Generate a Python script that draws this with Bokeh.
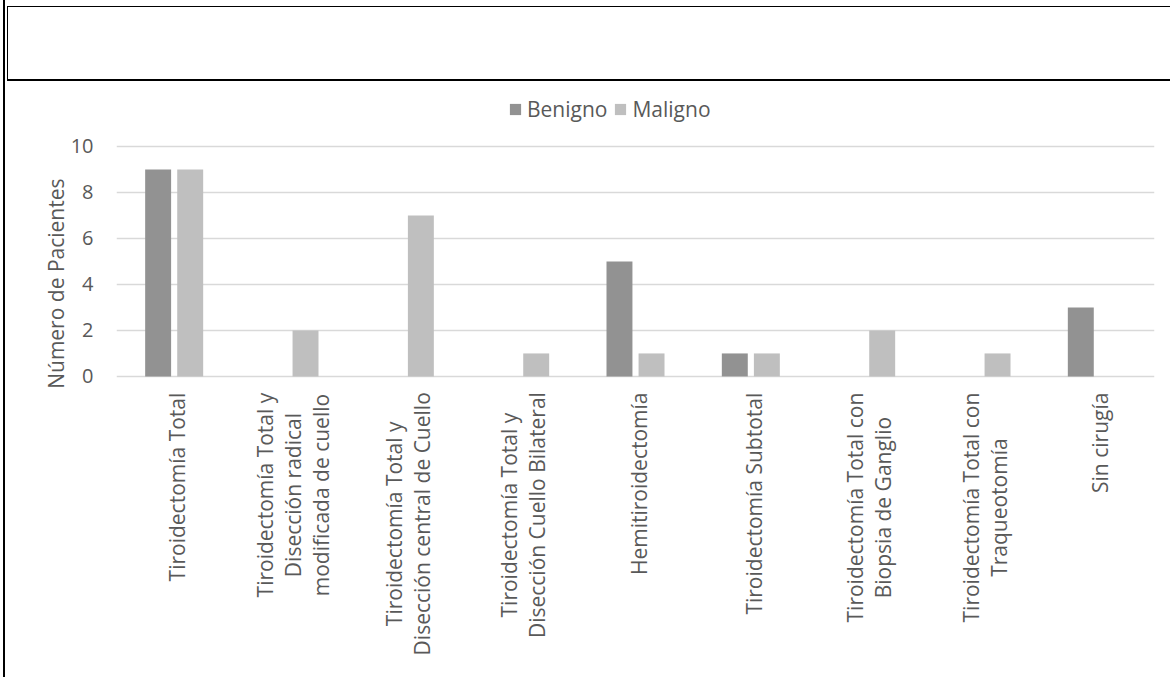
import math
from bokeh.plotting import figure
from bokeh.models import (ColumnDataSource, FactorRange, Range1d, FixedTicker, Legend, LegendItem,
                          Div, Title)
from bokeh.core.properties import value
from bokeh.layouts import column
from bokeh.transform import dodge
from bokeh.embed import file_html
from bokeh.resources import INLINE

categories = [
    "Tiroidectomía Total",
    "Tiroidectomía Total y\nDisección radical\nmodificada de cuello",
    "Tiroidectomía Total y\nDisección central de Cuello",
    "Tiroidectomía Total y\nDisección Cuello Bilateral",
    "Hemitiroidectomía",
    "Tiroidectomía Subtotal",
    "Tiroidectomía Total con\nBiopsia de Ganglio",
    "Tiroidectomía Total con\nTraqueotomía",
    "Sin cirugía",
]
benigno = [9, 0, 0, 0, 5, 1, 0, 0, 3]
maligno = [9, 2, 7, 1, 1, 1, 2, 1, 0]
y_ticks = [0, 2, 4, 6, 8, 10]

FONT = "Open Sans"
TXT = "#595959"
C_BEN = "#929292"
C_MAL = "#bfbfbf"
LABEL_PX = 21

# approximate Open Sans advance widths (em) to centre the wrapped category labels
_W = {" ": .260, "a": .556, "b": .613, "c": .476, "d": .613, "e": .561, "f": .339, "g": .548,
      "h": .614, "i": .253, "í": .253, "l": .253, "m": .930, "n": .614, "o": .604, "ó": .604,
      "p": .613, "q": .613, "r": .408, "s": .477, "t": .353, "u": .614, "y": .501, "T": .561,
      "D": .707, "B": .633, "C": .631, "G": .728, "H": .738, "M": .903, "S": .560}


def text_width(s):
    return sum(_W.get(ch, .58) for ch in s) * LABEL_PX


label_shift = [16 + max(text_width(line) for line in c.split("\n")) / 2 for c in categories]

src = ColumnDataSource(dict(cat=categories, benigno=benigno, maligno=maligno,
                            base=[0] * len(categories), shift=label_shift))

p = figure(
    width=1166, height=596,
    x_range=FactorRange(*categories, range_padding=0),
    y_range=Range1d(-13.09, 12.52),
    output_backend="svg", toolbar_location=None, x_axis_location=None,
    min_border_left=111, min_border_right=17,
    min_border_top=7, min_border_bottom=0,
)
p.outline_line_color = None
p.background_fill_color = "white"
p.border_fill_color = "white"

r1 = p.vbar(x=dodge("cat", -0.139, range=p.x_range), top="benigno", width=0.225,
            source=src, fill_color=C_BEN, line_color=None)
r2 = p.vbar(x=dodge("cat", 0.139, range=p.x_range), top="maligno", width=0.225,
            source=src, fill_color=C_MAL, line_color=None)

# category labels (rotated, wrapped lines centred like the reference)
p.text(x="cat", y="base", text="cat", source=src, angle=math.pi / 2,
       x_offset=3, y_offset="shift", text_align="center", text_baseline="middle",
       text_font=value(FONT), text_font_size=f"{LABEL_PX}px", text_color=TXT,
       text_line_height=1.0)

p.xgrid.grid_line_color = None
p.ygrid.grid_line_color = "#d9d9d9"
p.ygrid.grid_line_width = 1.5
p.ygrid.ticker = FixedTicker(ticks=y_ticks)
p.ygrid.level = "underlay"

p.yaxis.ticker = FixedTicker(ticks=y_ticks)
p.yaxis.axis_line_color = None
p.yaxis.major_tick_line_color = None
p.yaxis.major_tick_out = 0
p.yaxis.minor_tick_line_color = None
p.yaxis.minor_tick_out = 0
p.yaxis.major_label_text_font = FONT
p.yaxis.major_label_text_font_size = "20px"
p.yaxis.major_label_text_color = TXT
p.yaxis.major_label_standoff = 23

p.add_layout(Title(text="Número de Pacientes", align="right", offset=90, standoff=-5,
                   vertical_align="bottom",
                   text_font=FONT, text_font_size="21px", text_font_style="normal",
                   text_color=TXT), "left")

legend = Legend(
    items=[LegendItem(label="Benigno", renderers=[r1]), LegendItem(label="Maligno", renderers=[r2])],
    orientation="horizontal", location=(392, 554),
    label_text_font=FONT, label_text_font_size="21px", label_text_color=TXT,
    label_height=20, glyph_width=14, glyph_height=14, label_standoff=5, spacing=6,
    padding=0, margin=0, border_line_color=None, background_fill_alpha=0,
)
p.add_layout(legend, "center")

# surrounding document table borders
top_box = Div(text="", width=1163, height=75, margin=(6, 0, 0, 2),
              styles={"border-top": "1px solid black", "border-bottom": "2px solid black",
                      "border-left": "1px solid black", "box-sizing": "border-box"})
layout = column(top_box, p, spacing=0, margin=(0, 0, 0, 3),
                styles={"border-left": "2px solid black"})

open("out.html", "w").write(file_html(layout, INLINE))
